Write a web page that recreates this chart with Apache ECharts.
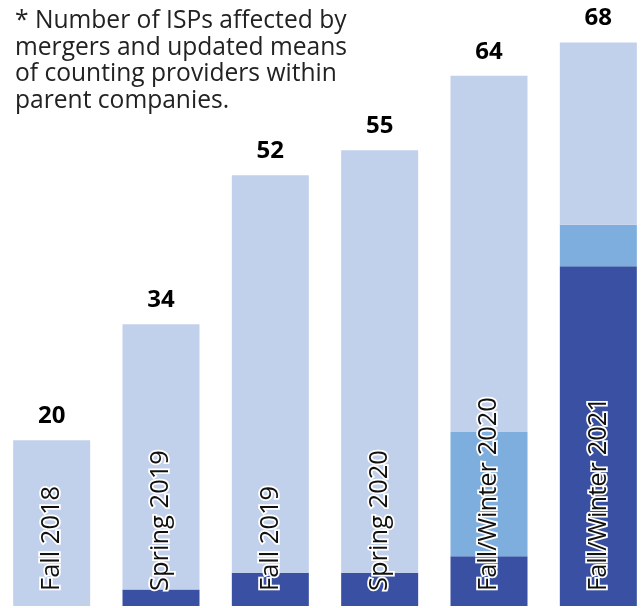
<!DOCTYPE html>
<html>
<head>
<meta charset="utf-8">
<script src="https://cdn.jsdelivr.net/npm/echarts@6/dist/echarts.min.js"></script>
<style>
html,body{margin:0;padding:0;background:#fff;}
#chart{width:642px;height:608px;}
</style>
</head>
<body>
<div id="chart"></div>
<script>
const categories = ['Fall 2018', 'Spring 2019', 'Fall 2019', 'Spring 2020', 'Fall/Winter 2020', 'Fall/Winter 2021'];
const darkValues = [0, 2, 4, 4, 6, 41];
const mediumValues = [0, 0, 0, 0, 15, 5];
const lightValues = [20, 32, 48, 51, 43, 22];
const noteLines = ['* Number of ISPs affected by', 'mergers and updated means', 'of counting providers within', 'parent companies.'];

const totals = categories.map((c, i) => darkValues[i] + mediumValues[i] + lightValues[i]);

const chart = echarts.init(document.getElementById('chart'), null, {renderer: 'canvas'});
const font = '"Open Sans", "Noto Sans", sans-serif';
chart.setOption({
  animation: false,
  backgroundColor: '#ffffff',
  grid: {left: -3, width: 656, top: 26, bottom: 2, outerBoundsMode: 'none', containLabel: false},
  title: {
    text: noteLines.join('\n'),
    left: 10, top: 3,
    textStyle: {fontFamily: font, fontSize: 24.6, fontWeight: 'normal', color: '#222', lineHeight: 26.5}
  },
  xAxis: {
    type: 'category', data: categories,
    axisLine: {show: false}, axisTick: {show: false}, axisLabel: {show: false}
  },
  yAxis: {type: 'value', min: 0, max: 70, show: false, splitLine: {show: false}},
  series: [
    {
      type: 'bar', stack: 'a', data: darkValues, barWidth: 77,
      itemStyle: {color: '#3A51A3'},
      label: {
        show: true, position: 'insideBottom', rotate: 90, align: 'left', verticalAlign: 'middle',
        distance: 15,
        formatter: p => p.name,
        fontFamily: font, fontSize: 25.5, color: '#111',
        textBorderColor: '#fff', textBorderWidth: 3.5
      }
    },
    {type: 'bar', stack: 'a', data: mediumValues, barWidth: 77, itemStyle: {color: '#7DAEDD'}},
    {
      type: 'bar', stack: 'a', data: lightValues, barWidth: 77, itemStyle: {color: '#C2D1EB'},
      label: {
        show: true, position: 'top', distance: 12,
        formatter: p => String(totals[p.dataIndex]),
        fontFamily: font, fontSize: 24, fontWeight: 'bold', color: '#000'
      }
    }
  ]
});
</script>
</body>
</html>
